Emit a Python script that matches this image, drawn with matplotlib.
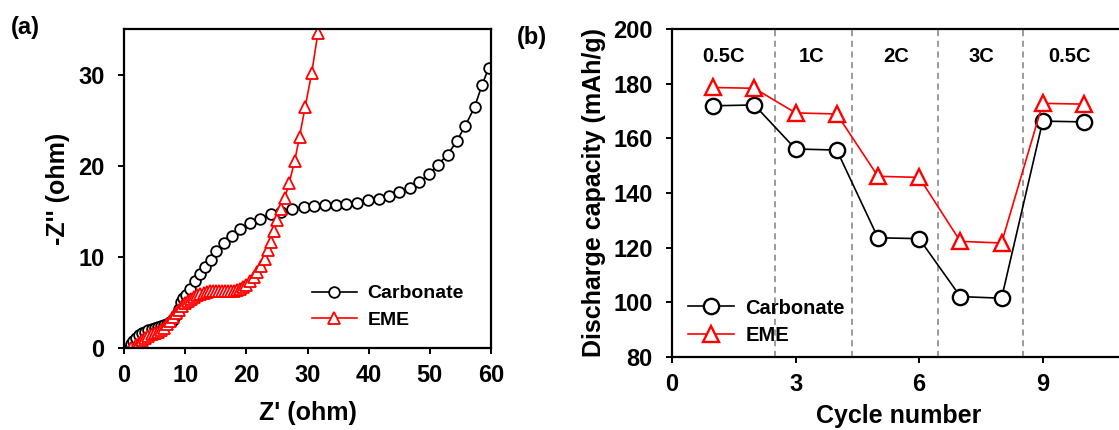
import matplotlib
matplotlib.use("Agg")
import matplotlib.pyplot as plt

plt.rcParams["font.family"] = ["Liberation Sans", "DejaVu Sans"]
plt.rcParams["font.weight"] = "bold"
plt.rcParams["axes.labelweight"] = "bold"

# (a) Nyquist plot
carb_zre = [1.0, 1.2, 1.5, 2.0, 2.5, 3.0, 3.5, 4.0, 4.5, 5.0, 5.5, 6.0, 6.5, 7.0,
            7.5, 8.0, 8.5, 9.0, 9.3, 9.7, 10.1, 10.8, 11.6, 12.4, 13.3, 14.2,
            15.1, 16.3, 17.6, 19.0, 20.6, 22.3, 24.0, 25.6, 27.5, 29.4, 31.1,
            32.8, 34.6, 36.3, 38.1, 39.9, 41.7, 43.4, 44.9, 46.7, 48.3, 49.9,
            51.3, 52.9, 54.4, 55.8, 57.3, 58.5, 59.6]
carb_zim = [0.0, 0.4, 0.8, 1.1, 1.4, 1.6, 1.8, 2.0, 2.1, 2.2, 2.3, 2.4, 2.5, 2.6,
            2.8, 3.1, 3.6, 4.3, 5.0, 5.5, 5.8, 6.5, 7.3, 8.1, 8.9, 9.7,
            10.6, 11.5, 12.3, 13.1, 13.7, 14.2, 14.7, 14.9, 15.3, 15.5, 15.6,
            15.7, 15.7, 15.8, 15.9, 16.2, 16.4, 16.7, 17.1, 17.6, 18.2, 19.1,
            20.1, 21.2, 22.7, 24.4, 26.4, 28.8, 30.7]
eme_zre = [1.2, 2.0, 2.5, 3.0, 3.5, 4.0, 4.5, 5.0, 5.5, 6.0, 6.5, 7.0, 7.5, 8.0,
           8.5, 9.0, 9.5, 10.0, 10.5, 11.0, 11.5, 12.0, 12.5, 13.0, 13.5, 14.0,
           14.5, 15.0, 15.5, 16.0, 16.5, 17.0, 17.5, 18.0, 18.5, 19.0, 19.5,
           20.0, 20.6, 21.2, 21.8, 22.4, 23.0, 23.5, 24.0, 24.5, 25.0, 25.6,
           26.3, 27.0, 27.9, 28.7, 29.6, 30.7, 31.7]
eme_zim = [0.0, 0.3, 0.6, 0.9, 1.1, 1.3, 1.5, 1.7, 1.8, 2.0, 2.2, 2.6, 3.0, 3.4,
           3.8, 4.2, 4.6, 4.9, 5.2, 5.4, 5.6, 5.8, 5.9, 6.0, 6.1, 6.2,
           6.2, 6.2, 6.2, 6.2, 6.3, 6.3, 6.3, 6.3, 6.4, 6.5, 6.7,
           6.9, 7.3, 7.8, 8.3, 9.0, 9.8, 10.7, 11.6, 12.8, 14.0, 15.3,
           16.5, 18.1, 20.5, 23.2, 26.4, 30.2, 34.6]

# (b) rate capability
cycles = [1, 2, 3, 4, 5, 6, 7, 8, 9, 10]
carb_cap = [171.9, 172.2, 156.1, 155.7, 123.6, 123.3, 102.1, 101.5, 166.3, 166.0]
eme_cap = [178.6, 178.3, 169.3, 168.9, 146.1, 145.7, 122.3, 121.7, 172.8, 172.5]
rate_bounds = [2.5, 4.38, 6.45, 8.52]
rate_labels = ["0.5C", "1C", "2C", "3C", "0.5C"]
rate_label_x = [1.24, 3.4, 5.43, 7.5, 9.64]

fig = plt.figure(figsize=(11.19, 4.30), dpi=100)
ax1 = fig.add_axes([0.1108, 0.1907, 0.328, 0.7419])
ax2 = fig.add_axes([0.6005, 0.1698, 0.405, 0.7628])

for ax in (ax1, ax2):
    for s in ax.spines.values():
        s.set_linewidth(1.6)
    ax.tick_params(direction="out", length=4.5, width=1.4, labelsize=17,
                   top=False, right=False)
    ax.tick_params(axis="x", pad=7)
    ax.tick_params(axis="y", pad=9.4)

ax1.plot(carb_zre, carb_zim, color="black", lw=1.2, marker="o", ms=7.7,
         mfc="white", mec="black", mew=1.3, label="Carbonate")
ax1.plot(eme_zre, eme_zim, color="red", lw=1.2, marker="^", ms=8,
         mfc="white", mec="red", mew=1.3, label="EME")
ax1.set_xlim(0, 60)
ax1.set_ylim(0, 35)
ax1.set_xticks([0, 10, 20, 30, 40, 50, 60])
ax1.set_yticks([0, 10, 20, 30])
ax1.set_xlabel("Z' (ohm)", fontsize=18, fontweight="bold", labelpad=10)
ax1.set_ylabel("-Z'' (ohm)", fontsize=18, fontweight="bold", labelpad=6)
ax1.legend(loc="center left", bbox_to_anchor=(0.512, 0.129), frameon=False,
           fontsize=14, handlelength=2.3, handletextpad=0.55, labelspacing=0.45,
           borderpad=0.0, borderaxespad=0.0)

for b in rate_bounds:
    ax2.axvline(b, color="#808080", lw=1.1, ls=(0, (4, 3)))
for lx, lt in zip(rate_label_x, rate_labels):
    ax2.text(lx, 190, lt, ha="center", va="center", fontsize=14.5,
             fontweight="bold")
ax2.plot(cycles, carb_cap, color="black", lw=1.2, marker="o", ms=11,
         mfc="white", mec="black", mew=1.7, label="Carbonate")
ax2.plot(cycles, eme_cap, color="red", lw=1.2, marker="^", ms=11.5,
         mfc="white", mec="red", mew=1.7, label="EME")
ax2.set_xlim(0, 11)
ax2.set_ylim(80, 200)
ax2.set_xticks([0, 3, 6, 9])
ax2.set_yticks([80, 100, 120, 140, 160, 180, 200])
ax2.spines["right"].set_visible(False)
ax2.set_xlabel("Cycle number", fontsize=18, fontweight="bold", labelpad=5.5)
ax2.set_ylabel("Discharge capacity (mAh/g)", fontsize=18, fontweight="bold",
               labelpad=5)
ax2.legend(loc="center left", bbox_to_anchor=(0.035, 0.108), frameon=False,
           fontsize=14.5, handlelength=2.3, handletextpad=0.55, labelspacing=0.4,
           borderpad=0.0, borderaxespad=0.0)

fig.text(0.010, 0.937, "(a)", fontsize=17, fontweight="bold", va="center")
fig.text(0.462, 0.913, "(b)", fontsize=17, fontweight="bold", va="center")

fig.savefig("out.png", dpi=100)
